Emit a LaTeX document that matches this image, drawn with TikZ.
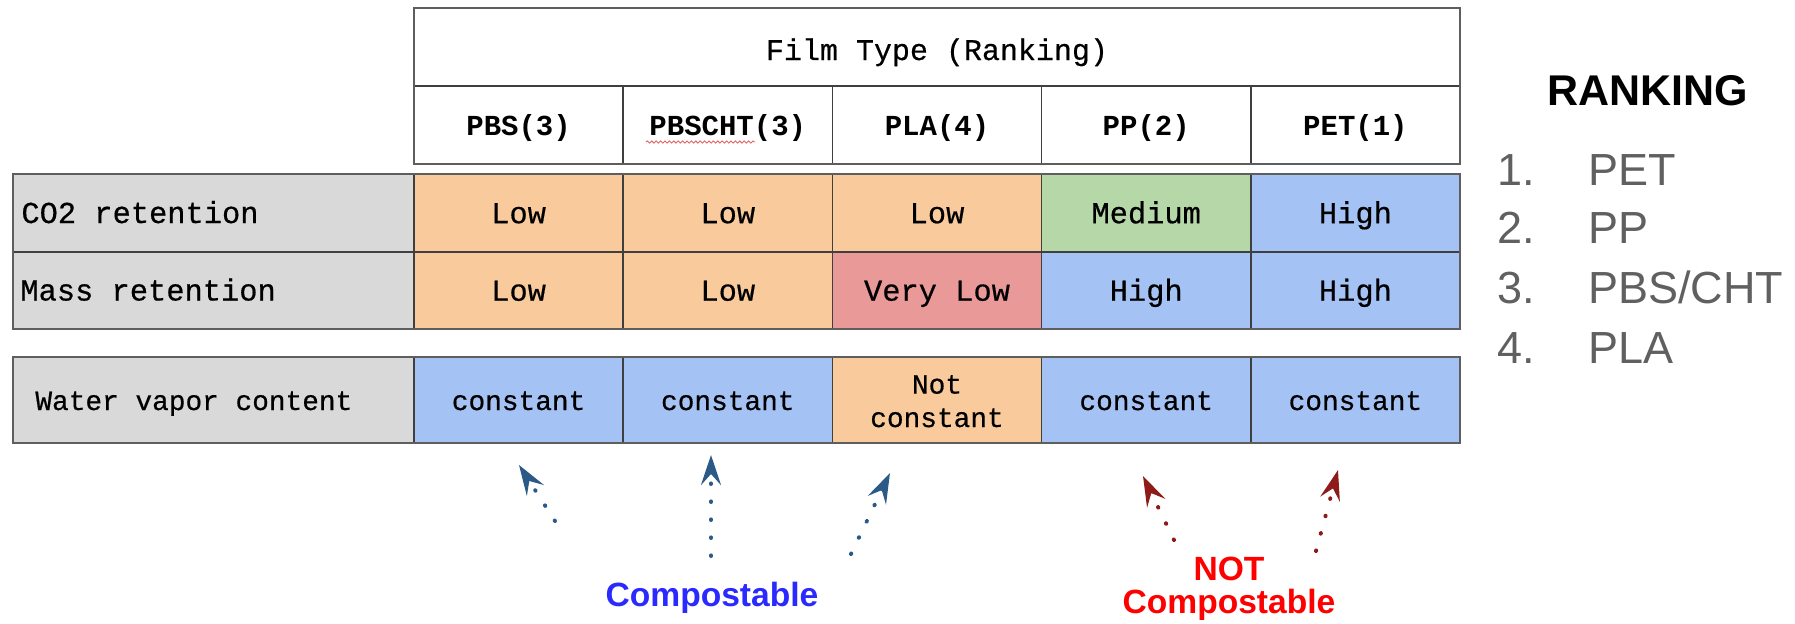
\documentclass[tikz,border=0pt]{standalone}
\usepackage{fontspec}
\setmainfont{Liberation Sans}
\newfontfamily\tablefont[FakeBold=0.5]{Liberation Mono}
\newfontfamily\tableboldfont{Liberation Mono Bold}
\usetikzlibrary{arrows.meta,decorations.pathmorphing}

\definecolor{cellorange}{HTML}{F9CB9C}
\definecolor{cellgreen}{HTML}{B6D7A8}
\definecolor{cellblue}{HTML}{A4C2F4}
\definecolor{cellred}{HTML}{EA9999}
\definecolor{cellgray}{HTML}{D9D9D9}
\definecolor{gridline}{HTML}{3F3F3F}
\definecolor{framegray}{HTML}{5E5E5E}
\definecolor{arrowblue}{HTML}{2C5A88}
\definecolor{arrowred}{HTML}{8E1A1A}
\definecolor{listgray}{HTML}{606060}
\definecolor{labelblue}{HTML}{2A2AFF}
\definecolor{labelred}{HTML}{FF0000}
\definecolor{squiggle}{HTML}{E06666}

\begin{document}
\begin{tikzpicture}[x=0.5pt,y=-0.5pt,
  cell/.style={draw=gridline, line width=0.8pt, minimum width=104.6pt,
    minimum height=39pt, inner sep=0pt, outer sep=0pt,
    text height=10.2pt, text depth=0pt,
    font=\tablefont\fontsize{15.2}{18}\selectfont},
  headcell/.style={cell, text height=10pt,
    font=\tableboldfont\fontsize{14.5}{18}\selectfont},
  smallcell/.style={cell, minimum height=43pt, text height=10pt,
    font=\tablefont\fontsize{13.9}{17}\selectfont},
  labelcell/.style={cell, fill=cellgray, minimum width=200.5pt},
  labeltext/.style={inner sep=0pt, anchor=base west,
    font=\tablefont\fontsize{15.2}{18}\selectfont},
  orange/.style={fill=cellorange},
  green/.style={fill=cellgreen},
  blue/.style={fill=cellblue},
  red/.style={fill=cellred},
  frame/.style={draw=framegray, line width=1.4pt},
  pointer/.style={line width=2pt, line cap=round,
    dash pattern=on 0.3pt off 8.7pt,
    -{Stealth[length=15pt, width=10pt, inset=5.5pt]}},
  rankhead/.style={font=\bfseries\fontsize{21.5}{26}\selectfont, inner sep=0pt},
  rankitem/.style={font=\fontsize{22.5}{27}\selectfont, text=listgray, inner sep=0pt},
  note/.style={font=\bfseries\fontsize{16.8}{16.2}\selectfont, inner sep=0pt,
    align=center, anchor=base}
]
\useasboundingbox (0,0) rectangle (1795,623);

% column header block
\node[cell, text height=13pt, font=\tablefont\fontsize{15}{18}\selectfont]
  (title) at (937,47) [minimum width=523pt] {Film Type (Ranking)};
\node[headcell] (hPBS)    at (518.6,125)  {PBS(3)};
\node[headcell] (hPBSCHT) at (727.8,125)  {PBSCHT(3)};
\node[headcell] (hPLA)    at (937.0,125)  {PLA(4)};
\node[headcell] (hPP)     at (1146.2,125) {PP(2)};
\node[headcell] (hPET)    at (1355.4,125) {PET(1)};
\draw[frame] (title.north west) rectangle (hPET.south east);
% spell-check underline
\draw[squiggle, line width=0.45pt, decorate,
  decoration={snake, amplitude=0.55pt, segment length=2.2pt}]
  (646,142) -- (755,142);

% retention rows
\node[labelcell] (lCO2) at (213.5,213) {};
\node[labeltext] (tCO2) at (21,223) {CO2 retention};
\node[cell, orange] (cPBS)    at (518.6,213)  {Low};
\node[cell, orange] (cPBSCHT) at (727.8,213)  {Low};
\node[cell, orange] (cPLA)    at (937.0,213)  {Low};
\node[cell, green]  (cPP)     at (1146.2,213) {Medium};
\node[cell, blue]   (cPET)    at (1355.4,213) {High};

\node[labelcell, minimum height=38.5pt] (lMass) at (213.5,290.5) {};
\node[labeltext] (tMass) at (20,300.5) {Mass retention};
\node[cell, orange, minimum height=38.5pt] (mPBS)    at (518.6,290.5)  {Low};
\node[cell, orange, minimum height=38.5pt] (mPBSCHT) at (727.8,290.5)  {Low};
\node[cell, red,    minimum height=38.5pt] (mPLA)    at (937.0,290.5)  {Very Low};
\node[cell, blue,   minimum height=38.5pt] (mPP)     at (1146.2,290.5) {High};
\node[cell, blue,   minimum height=38.5pt] (mPET)    at (1355.4,290.5) {High};
\draw[frame] (lCO2.north west) rectangle (mPET.south east);

% water vapour row
\node[labelcell, minimum height=43pt] (lWater) at (213.5,400) {};
\node[labeltext, font=\tablefont\fontsize{13.9}{17}\selectfont]
  (tWater) at (35,410) {Water vapor content};
\node[smallcell, blue]   (wPBS)    at (518.6,400)  {constant};
\node[smallcell, blue]   (wPBSCHT) at (727.8,400)  {constant};
\node[smallcell, orange] (wPLA)    at (937.0,400)  {};
\node[inner sep=0pt, anchor=base, align=center,
  font=\tablefont\fontsize{13.9}{16.7}\selectfont]
  (tPLA) at (937,427) {Not\\constant};
\node[smallcell, blue]   (wPP)     at (1146.2,400) {constant};
\node[smallcell, blue]   (wPET)    at (1355.4,400) {constant};
\draw[frame] (lWater.north west) rectangle (wPET.south east);

% ranking list
\node[rankhead, anchor=base west] (rank) at (1547,105) {RANKING};
\node[rankitem, anchor=base east] (n1) at (1535,185) {1.};
\node[rankitem, anchor=base west] (r1) at (1588,185) {PET};
\node[rankitem, anchor=base east] (n2) at (1535,243) {2.};
\node[rankitem, anchor=base west] (r2) at (1588,243) {PP};
\node[rankitem, anchor=base east] (n3) at (1535,303) {3.};
\node[rankitem, anchor=base west] (r3) at (1588,303) {PBS/CHT};
\node[rankitem, anchor=base east] (n4) at (1535,363) {4.};
\node[rankitem, anchor=base west] (r4) at (1588,363) {PLA};

% compostability notes
\node[note, text=labelblue] (comp) at (712,606) {Compostable};
\node[note, text=labelred] (notcomp) at (1229,613) {NOT\\Compostable};

% pointers from the notes up to the film columns
\coordinate (t1) at (555,521);  \coordinate (e1) at (519,465);
\coordinate (t2) at (711,556);  \coordinate (e2) at (711,455);
\coordinate (t3) at (851,554);  \coordinate (e3) at (890,473);
\coordinate (t4) at (1174,540); \coordinate (e4) at (1143,476);
\coordinate (t5) at (1316,551); \coordinate (e5) at (1338,470);
\draw[pointer, arrowblue] (t1) -- (e1);
\draw[pointer, arrowblue] (t2) -- (e2);
\draw[pointer, arrowblue] (t3) -- (e3);
\draw[pointer, arrowred]  (t4) -- (e4);
\draw[pointer, arrowred]  (t5) -- (e5);
\end{tikzpicture}
\end{document}
